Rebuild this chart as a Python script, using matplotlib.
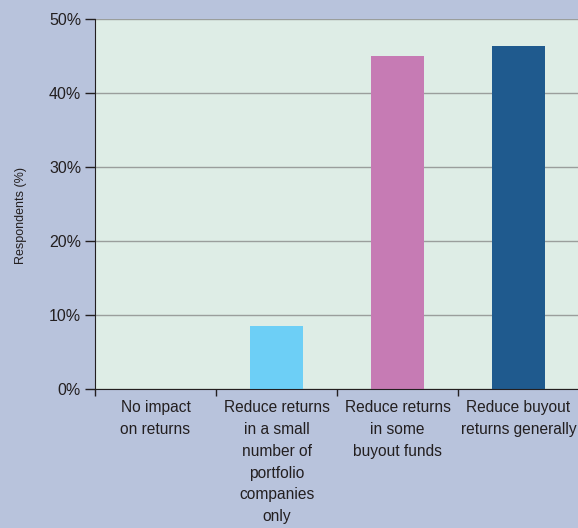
import matplotlib
matplotlib.use("Agg")
import matplotlib.pyplot as plt
from matplotlib.ticker import FixedLocator, PercentFormatter

categories = [
    "No impact\non returns",
    "Reduce returns\nin a small\nnumber of\nportfolio\ncompanies\nonly",
    "Reduce returns\nin some\nbuyout funds",
    "Reduce buyout\nreturns generally",
]
values = [0.0, 8.5, 45.0, 46.4]
colors = ["#6dcff6", "#6dcff6", "#c67bb4", "#1f5a8e"]
yticks = [0, 10, 20, 30, 40, 50]

plt.rcParams["font.family"] = ["Liberation Sans", "DejaVu Sans"]
ink = "#231f20"

fig = plt.figure(figsize=(5.78, 5.28), dpi=100, facecolor="#b8c3dc")
ax = fig.add_axes([95 / 578, 1 - 389 / 528, 484 / 578, 370 / 528])
ax.set_facecolor("#deede6")

x = range(len(categories))
ax.bar(x, values, width=0.43, color=colors, zorder=3)

ax.set_xlim(-0.5, 3.5)
ax.set_ylim(0, 50)
ax.set_yticks(yticks)
ax.yaxis.set_major_formatter(PercentFormatter(decimals=0))
ax.grid(axis="y", color="#9a9e9c", lw=1, zorder=1)

ax.set_xticks(list(x))
ax.set_xticklabels(categories, fontsize=11.2, color=ink, linespacing=1.57)
ax.xaxis.set_minor_locator(FixedLocator([-0.5, 0.5, 1.5, 2.5]))
ax.tick_params(axis="x", which="major", length=0, pad=8)
ax.tick_params(axis="x", which="minor", length=5, width=1, color=ink)
ax.tick_params(axis="y", length=7, width=1, color=ink, labelsize=11.5,
               labelcolor=ink, pad=3)

for side in ["top", "right"]:
    ax.spines[side].set_visible(False)
for side in ["left", "bottom"]:
    ax.spines[side].set_color(ink)
    ax.spines[side].set_zorder(4)

ax.set_ylabel("Respondents (%)", fontsize=9, color=ink)
ax.yaxis.set_label_coords(-68 / 484, (389 - 216) / 370)

fig.savefig("out.png", facecolor=fig.get_facecolor())
